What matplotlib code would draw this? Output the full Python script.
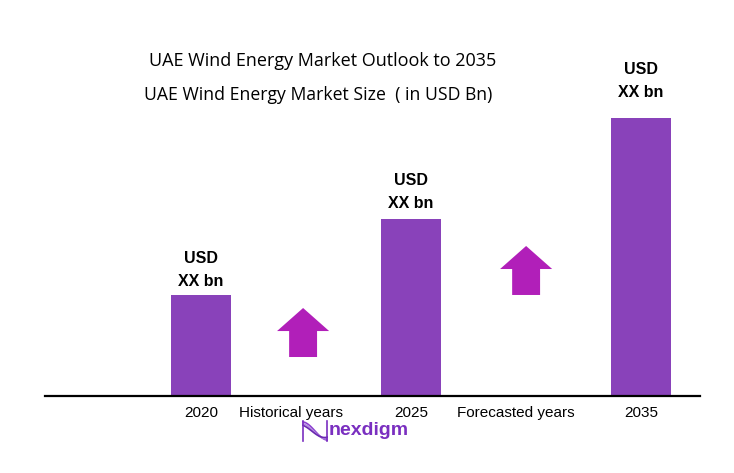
import numpy as np
import matplotlib.pyplot as plt
from matplotlib.patches import FancyArrow

plt.rcParams['font.family'] = ['Liberation Sans', 'DejaVu Sans']

# data
years = ['2020', '2025', '2035']
x_pos = [0.0, 1.0, 2.095]
values = [1.0, 1.75, 2.75]
period_labels = ['Historical years', 'Forecasted years']
period_pos = [0.43, 1.5]
arrow_x = [0.486, 1.548]
arrow_base = [0.386, 1.0]
arrow_len = 0.485

bar_color = '#8942BA'
arrow_color = '#B11FB9'
label_lift = [0, 1.5, 8.5]  # extra gap (pt) above each bar

fig = plt.figure(figsize=(7.34, 4.73), dpi=100)
ax = fig.add_axes([45/734, 77/473, 655/734, 396/473])
ax.set_xlim(-0.743, 2.376)
ax.set_ylim(0, 3.92)

ax.bar(x_pos, values, width=0.286, color=bar_color, zorder=2)

for x, v, d in zip(x_pos, values, label_lift):
    ax.annotate('USD', (x, v), xytext=(0, 26.5 + d), textcoords='offset points',
                ha='center', va='center', fontsize=11.5, fontweight='bold')
    ax.annotate('XX bn', (x, v), xytext=(0, 10 + d), textcoords='offset points',
                ha='center', va='center', fontsize=11.5, fontweight='bold')

for x, b in zip(arrow_x, arrow_base):
    ax.add_patch(FancyArrow(x, b, 0, arrow_len, width=0.133, head_width=0.248,
                            head_length=0.228, length_includes_head=True,
                            color=arrow_color, lw=0))

ticks = x_pos + period_pos
labels = years + period_labels
ax.set_xticks(ticks)
ax.set_xticklabels(labels, fontsize=11)
ax.tick_params(axis='x', length=0, pad=7)
ax.set_yticks([])
for s in ['top', 'right', 'left']:
    ax.spines[s].set_visible(False)
ax.spines['bottom'].set_linewidth(1.6)

fig.text(0.44, 0.871, 'UAE Wind Energy Market Outlook to 2035', ha='center',
         va='center', fontsize=13, family='Open Sans')
fig.text(0.433, 0.799, 'UAE Wind Energy Market Size  ( in USD Bn)', ha='center',
         va='center', fontsize=12.7, family='Open Sans')

# logo
fig.text(329/734, 1 - 430/473, 'nexdigm', ha='left', va='center', fontsize=14,
         fontweight='bold', color='#7A2FC0')
lax = fig.add_axes([302/734, 1 - 444/473, 26/734, 26/473])
t = np.linspace(0, 1, 50)
for k, c in enumerate(['#8B3FD0', '#B58BE0', '#6A2AB0']):
    lax.plot(t, 0.5 + (0.35 - 0.05*k) * np.cos(np.pi * t + 0.2*k), color=c, lw=1.2)
lax.plot([0.02, 0.02], [0.1, 0.9], color='#7A2FC0', lw=1.2)
lax.plot([0.98, 0.98], [0.1, 0.9], color='#7A2FC0', lw=1.2)
lax.set_xlim(0, 1)
lax.set_ylim(0, 1)
lax.axis('off')

fig.savefig('out.png', dpi=100)
